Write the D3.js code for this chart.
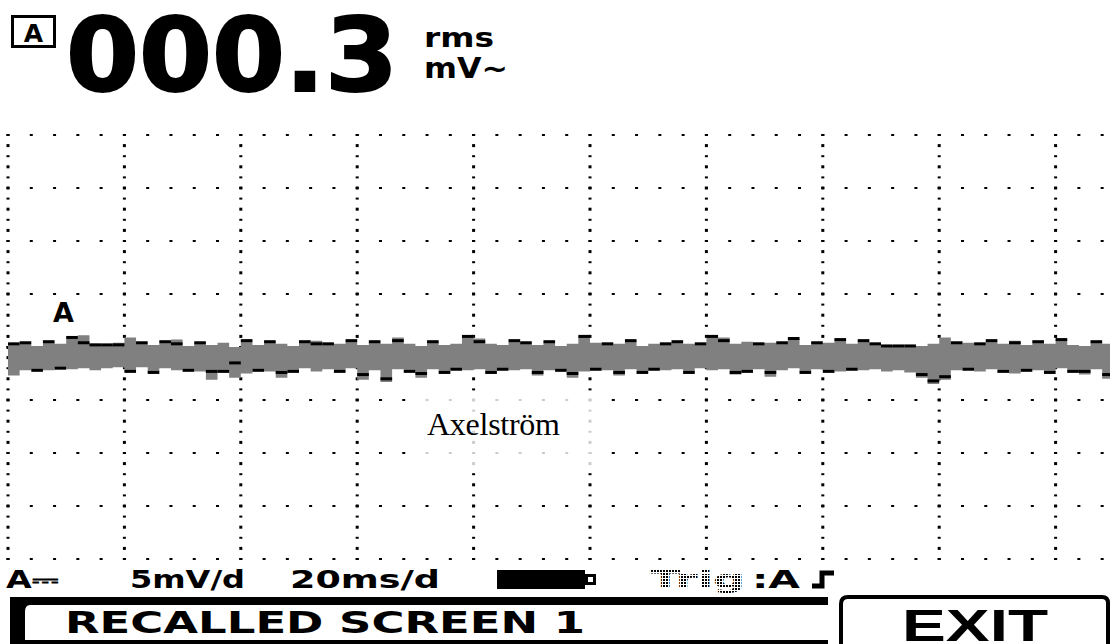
<!DOCTYPE html>
<html>
<head>
<meta charset="utf-8">
<script src="https://cdn.jsdelivr.net/npm/d3@7"></script>
<style>
  body { margin: 0; background: #fff; }
  svg { display: block; }
</style>
</head>
<body>
<div id="chart"></div>
<script>
// readout and scope settings
const reading = "000.3";
const unitTop = "rms";
const unitBottom = "mV~";
const statusItems = ["A\u2393", "5mV/d", "20ms/d"];
const trigLabel = "Trig";
const trigSource = ":A";
const recallLabel = "RECALLED SCREEN 1";
const exitLabel = "EXIT";
const traceName = "Axelström";

// time of each sample (ms), 2 ms apart, 20 ms/div
const sampleTimes = d3.range(0, 192, 2);
// envelope of the noisy trace, mV (5 mV/div)
const envHigh = [0.2, 0.3, 0.1, 0.4, 0.3, 0.8, 1.1, 0.3, 0.2, 0.4, 0.9, 0.3, 0.2, 0.4, 0.7, 0.1,
  0.3, 0.2, 0.4, 0.0, 0.5, 0.2, 0.4, 0.3, 0.1, 0.4, 0.6, 0.2, 0.3, 0.5, 0.2, 0.4,
  0.3, 0.9, 0.3, 0.1, 0.4, 0.2, 0.3, 1.0, 0.8, 0.3, 0.2, 0.5, 0.3, 0.2, 0.4, 0.1,
  0.3, 1.0, 0.4, 0.2, 0.3, 0.5, 0.1, 0.3, 0.2, 0.4, 0.3, 0.2, 1.0, 0.9, 0.3, 0.5,
  0.2, 0.4, 0.3, 0.8, 0.2, 0.3, 0.4, 0.7, 0.3, 0.5, 0.2, 0.0, 0.0, 0.0, 0.1, 0.3,
  0.9, 0.3, 0.4, 0.2, 0.5, 0.3, 0.6, 0.2, 0.4, 0.3, 0.7, 0.2, 0.1, 0.4, 0.3, 0.2];
const envLow = [-2.7, -2.2, -2.1, -2.2, -1.9, -2.1, -2.0, -2.2, -2.0, -1.9, -2.2, -1.9, -2.3, -2.0, -2.2, -2.1,
  -2.3, -3.1, -2.2, -2.9, -2.5, -2.1, -2.3, -2.9, -2.2, -2.0, -2.3, -2.1, -2.2, -2.0, -3.1, -2.2,
  -3.3, -2.1, -2.2, -2.9, -2.1, -2.3, -2.0, -2.2, -2.1, -2.3, -2.0, -2.2, -2.1, -2.7, -2.2, -2.1,
  -2.9, -2.3, -2.0, -2.2, -2.7, -2.1, -2.3, -2.0, -2.2, -2.1, -2.3, -2.0, -2.2, -2.1, -2.6, -2.2,
  -2.1, -2.8, -2.2, -2.0, -2.3, -2.1, -2.2, -2.3, -2.0, -2.2, -2.1, -2.3, -2.2, -2.4, -2.9, -3.5,
  -3.1, -2.2, -2.0, -2.3, -2.1, -2.2, -2.5, -2.1, -2.2, -2.3, -2.0, -2.2, -2.6, -2.1, -3.0, -2.3];
// last sweep, drawn in black over the envelope, mV
const lastSweep = [0.3, 0.4, -2.2, 0.5, -2.0, 0.9, 0.4, 0.2, 0.2, 0.2, -2.3, 0.4, -2.4, 0.5, 0.3, -2.2,
  0.4, -2.3, -2.3, -1.5, 0.6, -2.2, 0.5, -2.4, -2.3, 0.5, 0.3, 0.3, -2.3, 0.6, -2.6, 0.5,
  -3.0, 0.6, -2.3, -2.5, 0.5, -2.4, -2.1, 1.0, 0.5, -2.4, -2.1, 0.6, 0.4, -2.4, 0.5, -2.2,
  -2.5, 1.0, -2.1, 0.3, -2.4, 0.6, -2.4, -2.1, 0.3, 0.5, -2.4, 0.3, 1.0, 0.6, -2.4, -2.3,
  0.3, -2.4, 0.4, 0.8, -2.4, 0.4, -2.3, 0.7, -2.1, 0.6, 0.3, 0.1, 0.1, 0.1, -2.6, -3.2,
  -2.8, 0.4, -2.1, 0.3, 0.6, -2.3, 0.4, -2.2, 0.5, -2.4, 0.7, -2.3, -2.3, 0.5, -2.6, 0.3];

const width = 1110, height = 644;
const font = "'DejaVu Sans', sans-serif";

const svg = d3.select("#chart").append("svg")
  .attr("width", width).attr("height", height);

const defs = svg.append("defs");
defs.append("pattern").attr("id", "dim")
  .attr("width", 3).attr("height", 3).attr("patternUnits", "userSpaceOnUse")
  .append("rect").attr("width", 2).attr("height", 2).attr("fill", "#000");

// 10 div x 20 ms, 8 div x 5 mV
const x = d3.scaleLinear().domain([0, 200]).range([8, 1172]);
const y = d3.scaleLinear().domain([-20, 20]).range([559, 135]);

// dotted graticule
const grid = svg.append("g");
d3.range(0, 201, 20).forEach(t => {
  grid.selectAll(null).data(d3.range(-20, 21, 1)).join("rect")
    .attr("x", x(t) - 1.5).attr("y", d => y(d) - (d % 2 ? 1.5 : 1))
    .attr("width", 3).attr("height", d => d % 2 ? 3 : 2)
    .attr("fill", "#000");
});
d3.range(-20, 21, 5).forEach(v => {
  grid.selectAll(null).data(d3.range(0, 201, 4)).join("rect")
    .attr("x", d => x(d) - 1.5).attr("y", y(v) - 1)
    .attr("width", 3).attr("height", v === 0 ? 3 : 2)
    .attr("fill", "#000");
});

// trace
const trace = sampleTimes.map((t, i) => ({ t, hi: envHigh[i], lo: envLow[i], last: lastSweep[i] }));
svg.append("path")
  .datum(trace)
  .attr("fill", "#808080")
  .attr("d", d3.area()
    .x(d => x(d.t)).y0(d => y(d.lo)).y1(d => y(d.hi))
    .curve(d3.curveStepAfter));
svg.append("g").selectAll("rect").data(trace.slice(0, -1)).join("rect")
  .attr("x", d => x(d.t)).attr("y", d => y(d.last) - 1.5)
  .attr("width", d => x(d.t + 2) - x(d.t)).attr("height", 3)
  .attr("fill", "#000");

// channel marker
svg.append("text").attr("x", 53).attr("y", 322).text("A")
  .attr("font-family", font).attr("font-weight", "bold").attr("font-size", 27);

// trace name with faded background
svg.append("rect").attr("x", 418).attr("y", 395).attr("width", 180).attr("height", 72)
  .attr("fill", "#fff").attr("opacity", 0.8);
svg.append("text").attr("x", 427).attr("y", 435).text(traceName)
  .attr("font-family", "'Liberation Serif', serif").attr("font-size", 32)
  .attr("textLength", 133);

// header readout
svg.append("rect").attr("x", 12.5).attr("y", 16.5).attr("width", 42).attr("height", 30)
  .attr("fill", "none").attr("stroke", "#000").attr("stroke-width", 3);
svg.append("text").attr("x", 33.5).attr("y", 42).text("A").attr("text-anchor", "middle")
  .attr("font-family", font).attr("font-weight", "bold").attr("font-size", 25);
svg.append("text").attr("x", 66).attr("y", 91).text(reading)
  .attr("font-family", font).attr("font-weight", "bold").attr("font-size", 102)
  .attr("stroke", "#000").attr("stroke-width", 2)
  .attr("textLength", 332).attr("lengthAdjust", "spacingAndGlyphs");
svg.append("text").attr("x", 424).attr("y", 47).text(unitTop)
  .attr("font-family", font).attr("font-weight", "bold").attr("font-size", 26)
  .attr("textLength", 70).attr("lengthAdjust", "spacingAndGlyphs");
svg.append("text").attr("x", 424).attr("y", 78).text(unitBottom)
  .attr("font-family", font).attr("font-weight", "bold").attr("font-size", 28)
  .attr("textLength", 84).attr("lengthAdjust", "spacingAndGlyphs");

// status line
const statusX = [6, 130, 290];
const statusW = [52, 115, 150];
statusItems.forEach((s, i) => {
  svg.append("text").attr("x", statusX[i]).attr("y", 588).text(s)
    .attr("font-family", font).attr("font-weight", "bold").attr("font-size", 24)
    .attr("textLength", statusW[i]).attr("lengthAdjust", "spacingAndGlyphs");
});
svg.append("rect").attr("x", 497).attr("y", 570).attr("width", 88).attr("height", 19).attr("fill", "#000");
svg.append("rect").attr("x", 585).attr("y", 574).attr("width", 11).attr("height", 11).attr("fill", "#000");
svg.append("rect").attr("x", 588).attr("y", 577).attr("width", 5).attr("height", 5).attr("fill", "#fff");
svg.append("text").attr("x", 650).attr("y", 588).text(trigLabel)
  .attr("font-family", font).attr("font-weight", "bold").attr("font-size", 24)
  .attr("fill", "url(#dim)")
  .attr("textLength", 95).attr("lengthAdjust", "spacingAndGlyphs");
svg.append("text").attr("x", 752).attr("y", 588).text(trigSource)
  .attr("font-family", font).attr("font-weight", "bold").attr("font-size", 24)
  .attr("textLength", 48).attr("lengthAdjust", "spacingAndGlyphs");
svg.append("path").attr("d", "M812,586H822V573H834")
  .attr("fill", "none").attr("stroke", "#000").attr("stroke-width", 5);

// recalled screen box
svg.append("path")
  .attr("fill", "#000").attr("fill-rule", "evenodd")
  .attr("d", "M10,597H828V644H10Z M30,605H828V640H25V612Q25,605 30,605Z");
svg.append("text").attr("x", 65).attr("y", 633).text(recallLabel)
  .attr("font-family", font).attr("font-weight", "bold").attr("font-size", 30)
  .attr("textLength", 520).attr("lengthAdjust", "spacingAndGlyphs");

// exit softkey
svg.append("path")
  .attr("fill", "none").attr("stroke", "#000")
  .attr("d", "M841,646V604Q841,597 848,597H1102Q1108,597 1108,603V646")
  .attr("stroke-width", 4);
svg.append("text").attr("x", 902).attr("y", 641).text(exitLabel)
  .attr("font-family", "'Liberation Sans', sans-serif").attr("font-weight", "bold").attr("font-size", 44)
  .attr("textLength", 146).attr("lengthAdjust", "spacingAndGlyphs");
</script>
</body>
</html>
